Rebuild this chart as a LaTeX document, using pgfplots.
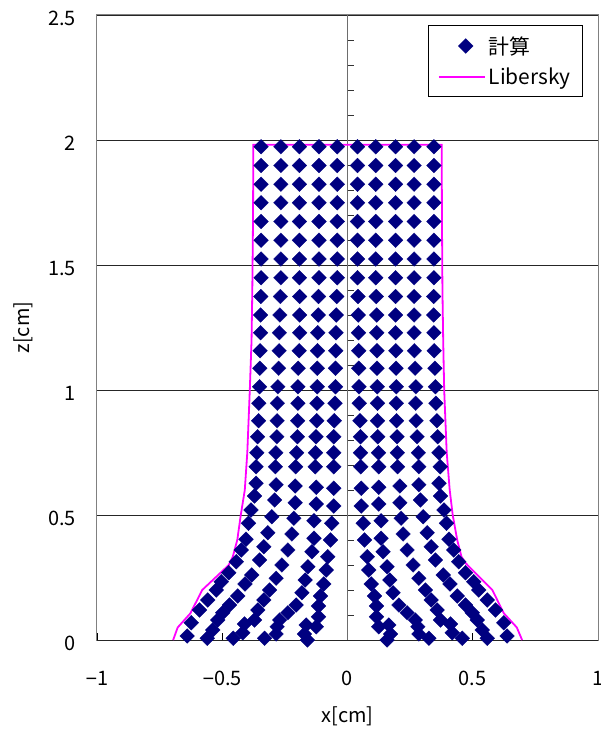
\documentclass[border=0pt]{standalone}
\usepackage{fontspec}
\setmainfont{Noto Sans CJK JP}
\newfontfamily\lsans{Liberation Sans}
\usepackage{pgfplots}
\pgfplotsset{compat=1.18}
\definecolor{navy}{RGB}{0,0,128}
\definecolor{frame}{RGB}{128,128,128}
\definecolor{pink}{RGB}{255,0,255}
\newcommand\mn{{\lsans −}}
\pgfplotsset{
  particle key/.style={legend image code/.code={\draw[##1] plot coordinates {(27bp,0bp)};}},
  profile key/.style={legend image code/.code={\draw[##1] (0bp,0bp) -- (46bp,0bp);}},
}
\begin{document}
\begin{tikzpicture}
\useasboundingbox (-97bp,-96bp) rectangle (504bp,640bp);
\begin{axis}[
  scale only axis, width=501bp, height=625bp,
  xmin=-1, xmax=1, ymin=0, ymax=2.5,
  font=\fontsize{20}{24}\selectfont,
  axis line style={draw=frame, line width=1bp},
  xtick={-1,-0.5,0,0.5,1},
  xticklabels={\mn1,\mn0.5,0,0.5,1},
  ytick={0,0.5,1,1.5,2,2.5},
  yticklabels={0,0.5,1,1.5,2,2.5},
  xtick pos=bottom, ytick pos=left,
  tick align=inside, major tick length=7bp,
  xtick style={draw=black, line width=0.8bp},
  ytick style={draw=none},
  ymajorgrids, grid style={black!85, line width=0.8bp},
  xticklabel style={anchor=base, inner sep=0pt, yshift=-45bp},
  yticklabel style={anchor=base east, inner sep=0pt, xshift=-21bp, yshift=-10.5bp},
  every axis x label/.style={at={(axis description cs:0.5,0)}, anchor=base, yshift=-82bp, inner sep=0pt},
  every axis y label/.style={at={(axis description cs:0,0.5)}, xshift=-67bp, rotate=90, anchor=base, inner sep=0pt},
  xlabel={x[cm]}, ylabel={z[cm]},
  legend style={at={(0.970,0.984)}, anchor=north east, draw=black, line width=0.8bp,
    fill=white, font=\fontsize{21}{25}\selectfont, inner xsep=9bp, inner ysep=8bp,
    row sep=6bp, nodes={inner sep=3bp}},
  legend cell align=left,
  clip=false,
]
% symmetry axis at x = 0 with its minor ticks
\draw[frame!85!black, line width=1.3bp] (axis cs:0,0) -- (axis cs:0,2.5);
\pgfplotsinvokeforeach{0.1,0.2,0.3,0.4,0.6,0.7,0.8,0.9,1.1,1.2,1.3,1.4,1.6,1.7,1.8,1.9,2.1,2.2,2.3,2.4}{
  \draw[black!80, line width=0.8bp] (axis cs:0,#1) -- ([xshift=6bp]axis cs:0,#1);
}
\draw[black!85, line width=1bp] (rel axis cs:0,0) -- (rel axis cs:1,0);

% SPH particle positions
\addplot[only marks, mark=square*, mark size=5.2bp,
  mark options={rotate=45, fill=navy, draw=navy, line width=0.3bp},
  particle key]
coordinates {
(-0.345,1.973) (-0.266,1.973) (-0.192,1.973) (-0.114,1.973) (-0.041,1.973) (0.040,1.973) (0.113,1.973) (0.192,1.973) (0.266,1.973) (0.345,1.973)
(-0.345,1.898) (-0.266,1.898) (-0.192,1.898) (-0.114,1.898) (-0.041,1.898) (0.040,1.898) (0.113,1.898) (0.192,1.898) (0.266,1.898) (0.345,1.898)
(-0.345,1.823) (-0.266,1.823) (-0.192,1.823) (-0.114,1.823) (-0.041,1.823) (0.040,1.823) (0.113,1.823) (0.192,1.823) (0.266,1.823) (0.345,1.823)
(-0.345,1.749) (-0.266,1.749) (-0.192,1.749) (-0.114,1.749) (-0.041,1.749) (0.040,1.749) (0.113,1.749) (0.192,1.749) (0.266,1.749) (0.345,1.749)
(-0.345,1.674) (-0.266,1.674) (-0.192,1.674) (-0.114,1.674) (-0.041,1.674) (0.040,1.674) (0.113,1.674) (0.192,1.674) (0.266,1.674) (0.345,1.674)
(-0.345,1.599) (-0.266,1.599) (-0.192,1.599) (-0.114,1.599) (-0.041,1.599) (0.040,1.599) (0.113,1.599) (0.192,1.599) (0.266,1.599) (0.345,1.599)
(-0.345,1.524) (-0.266,1.524) (-0.192,1.524) (-0.114,1.524) (-0.041,1.524) (0.040,1.524) (0.113,1.524) (0.192,1.524) (0.266,1.524) (0.345,1.524)
(-0.345,1.449) (-0.266,1.449) (-0.192,1.449) (-0.114,1.449) (-0.041,1.449) (0.040,1.449) (0.113,1.449) (0.192,1.449) (0.266,1.449) (0.345,1.449)
(-0.346,1.374) (-0.268,1.374) (-0.191,1.374) (-0.116,1.374) (-0.043,1.374) (0.042,1.374) (0.115,1.374) (0.192,1.374) (0.266,1.374) (0.344,1.374)
(-0.347,1.300) (-0.270,1.300) (-0.191,1.300) (-0.117,1.300) (-0.045,1.300) (0.043,1.300) (0.117,1.300) (0.192,1.300) (0.266,1.300) (0.344,1.300)
(-0.347,1.229) (-0.272,1.229) (-0.191,1.229) (-0.119,1.229) (-0.046,1.229) (0.044,1.229) (0.117,1.229) (0.192,1.229) (0.266,1.229) (0.345,1.229)
(-0.349,1.157) (-0.273,1.157) (-0.193,1.157) (-0.120,1.157) (-0.047,1.157) (0.045,1.157) (0.118,1.157) (0.193,1.157) (0.267,1.157) (0.346,1.157)
(-0.350,1.087) (-0.275,1.087) (-0.197,1.087) (-0.121,1.087) (-0.048,1.087) (0.045,1.087) (0.118,1.087) (0.194,1.087) (0.270,1.087) (0.349,1.087)
(-0.351,1.013) (-0.278,1.013) (-0.198,1.013) (-0.121,1.013) (-0.048,1.013) (0.046,1.013) (0.119,1.013) (0.195,1.013) (0.273,1.013) (0.351,1.013)
(-0.354,0.947) (-0.280,0.947) (-0.198,0.947) (-0.122,0.947) (-0.050,0.947) (0.047,0.947) (0.120,0.947) (0.195,0.947) (0.272,0.947) (0.353,0.947)
(-0.355,0.877) (-0.281,0.877) (-0.199,0.877) (-0.123,0.877) (-0.053,0.877) (0.050,0.877) (0.120,0.877) (0.196,0.877) (0.274,0.877) (0.357,0.877)
(-0.359,0.813) (-0.282,0.813) (-0.200,0.813) (-0.126,0.813) (-0.055,0.813) (0.052,0.813) (0.121,0.813) (0.198,0.813) (0.278,0.813) (0.360,0.813)
(-0.362,0.749) (-0.286,0.749) (-0.203,0.749) (-0.128,0.749) (-0.055,0.749) (0.052,0.749) (0.124,0.749) (0.199,0.749) (0.283,0.749) (0.365,0.749)
(-0.365,0.693) (-0.288,0.693) (-0.207,0.693) (-0.129,0.693) (-0.055,0.693) (0.053,0.693) (0.125,0.693) (0.200,0.693) (0.285,0.693) (0.370,0.693)
(0.055,0.607) (0.055,0.536) (0.063,0.467) (0.068,0.400) (0.079,0.333) (0.085,0.280) (0.095,0.224)
(0.108,0.176) (0.116,0.136) (0.116,0.093) (0.125,0.053) (0.165,0.060) (0.172,0.024) (0.158,0.000)
(0.125,0.611) (0.125,0.544) (0.134,0.477) (0.134,0.407) (0.142,0.353) (0.158,0.293) (0.169,0.240)
(0.182,0.189) (0.205,0.140) (0.238,0.109) (0.271,0.080) (0.281,0.053) (0.285,0.024) (0.325,0.007)
(0.209,0.616) (0.209,0.549) (0.214,0.487) (0.222,0.424) (0.238,0.360) (0.262,0.300) (0.285,0.247)
(0.311,0.200) (0.334,0.160) (0.358,0.120) (0.371,0.080) (0.411,0.064) (0.418,0.029) (0.458,0.007)
(0.285,0.621) (0.291,0.560) (0.302,0.493) (0.318,0.429) (0.334,0.373) (0.351,0.320) (0.382,0.260)
(0.409,0.224) (0.438,0.176) (0.471,0.140) (0.498,0.109) (0.518,0.080) (0.538,0.040) (0.558,0.007)
(0.365,0.627) (0.371,0.576) (0.385,0.520) (0.395,0.467) (0.405,0.403) (0.424,0.360) (0.444,0.313)
(0.471,0.269) (0.504,0.233) (0.524,0.200) (0.558,0.160) (0.591,0.120) (0.624,0.069) (0.637,0.016)
(-0.055,0.607) (-0.055,0.536) (-0.063,0.467) (-0.068,0.400) (-0.079,0.333) (-0.085,0.280) (-0.095,0.224)
(-0.108,0.176) (-0.116,0.136) (-0.116,0.093) (-0.125,0.053) (-0.165,0.060) (-0.172,0.024) (-0.160,0.000)
(-0.125,0.611) (-0.125,0.544) (-0.134,0.477) (-0.134,0.407) (-0.142,0.353) (-0.158,0.293) (-0.169,0.240)
(-0.182,0.189) (-0.205,0.140) (-0.238,0.109) (-0.271,0.080) (-0.281,0.053) (-0.285,0.024) (-0.331,0.007)
(-0.209,0.616) (-0.209,0.549) (-0.214,0.487) (-0.222,0.424) (-0.238,0.360) (-0.262,0.300) (-0.285,0.247)
(-0.311,0.200) (-0.334,0.160) (-0.358,0.120) (-0.371,0.080) (-0.411,0.064) (-0.418,0.029) (-0.456,0.007)
(-0.285,0.621) (-0.291,0.560) (-0.302,0.493) (-0.318,0.429) (-0.334,0.373) (-0.351,0.320) (-0.382,0.260)
(-0.409,0.224) (-0.438,0.176) (-0.471,0.140) (-0.498,0.109) (-0.518,0.080) (-0.538,0.040) (-0.560,0.007)
(-0.365,0.627) (-0.371,0.576) (-0.385,0.520) (-0.395,0.467) (-0.405,0.403) (-0.424,0.360) (-0.444,0.313)
(-0.474,0.269) (-0.504,0.233) (-0.524,0.200) (-0.558,0.160) (-0.591,0.120) (-0.624,0.069) (-0.640,0.016)
};
\addlegendentry{計算}

% Libersky reference profile
\addplot[draw=pink, line width=1.8bp, no marks, profile key]
coordinates {
(-0.696,0.000) (-0.678,0.050) (-0.627,0.107) (-0.580,0.200) (-0.474,0.300)
(-0.458,0.333) (-0.440,0.400) (-0.426,0.500) (-0.410,0.600) (-0.400,0.750)
(-0.390,1.000) (-0.383,1.200) (-0.380,1.400) (-0.377,1.700) (-0.376,1.981)
(0.376,1.981) (0.377,1.700) (0.379,1.400) (0.382,1.200) (0.386,1.000)
(0.396,0.750) (0.408,0.600) (0.420,0.500) (0.438,0.400) (0.455,0.333)
(0.472,0.307) (0.578,0.200) (0.624,0.107) (0.676,0.050) (0.697,0.000)
};
\addlegendentry{Libersky}
\end{axis}
\end{tikzpicture}
\end{document}
